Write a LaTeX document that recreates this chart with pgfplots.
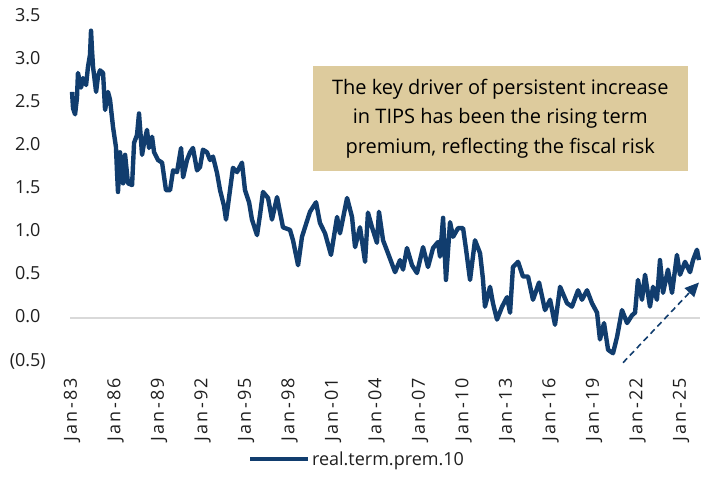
\documentclass[border=0pt]{standalone}
\usepackage{fontspec}
\setmainfont{Open Sans}
\usepackage{pgfplots}
\pgfplotsset{compat=1.18}
\usetikzlibrary{arrows.meta}
\definecolor{tipsblue}{HTML}{113D6E}
\definecolor{boxtan}{HTML}{DDCB9D}
\definecolor{zerogray}{HTML}{D9D9D9}
\definecolor{labgray}{HTML}{1F1F1F}
\begin{document}
\begin{tikzpicture}
\path[use as bounding box] (-70bp,-116bp) rectangle (638bp,361bp);
\begin{axis}[
  at={(0,0)}, anchor=south west,
  scale only axis, width=630bp, height=345bp,
  xmin=1982.86, xmax=2026.31, ymin=-0.5, ymax=3.5,
  clip=false,
  axis line style={draw=none},
  major tick length=0pt,
  xtick={1983,1986,1989,1992,1995,1998,2001,2004,2007,2010,2013,2016,2019,2022,2025},
  xticklabels={Jan-83,Jan-86,Jan-89,Jan-92,Jan-95,Jan-98,Jan-01,Jan-04,Jan-07,Jan-10,Jan-13,Jan-16,Jan-19,Jan-22,Jan-25},
  xticklabel style={rotate=90, anchor=east, inner sep=0pt, text=labgray,
    font=\fontsize{18bp}{20bp}\selectfont\addfontfeatures{LetterSpace=12}},
  xticklabel shift=17bp,
  ytick={-0.5,0,0.5,1,1.5,2,2.5,3,3.5},
  yticklabels={(0.5),0.0\phantom{)},0.5\phantom{)},1.0\phantom{)},1.5\phantom{)},2.0\phantom{)},2.5\phantom{)},3.0\phantom{)},3.5\phantom{)}},
  yticklabel style={anchor=east, inner sep=0pt, text=labgray, font=\fontsize{18bp}{20bp}\selectfont},
  yticklabel shift=24bp,
  legend style={at={(0.456,-0.284)}, anchor=center, draw=none, fill=none,
    font=\fontsize{18bp}{20bp}\selectfont, text=labgray, inner sep=0pt,
    nodes={inner sep=2bp}},
  legend image code/.code={\draw[#1, line width=3.5bp] (0bp,0bp) -- (58bp,0bp);},
]
\addplot[forget plot, zerogray, line width=1.6bp] coordinates {(1982.86,0) (2026.31,0)};
\addplot[tipsblue, line width=4.4bp, line join=round] table {
year value
1983.00 2.62
1983.07 2.43
1983.21 2.36
1983.34 2.55
1983.41 2.84
1983.62 2.67
1983.76 2.78
1983.97 2.70
1984.10 2.91
1984.24 3.05
1984.31 3.33
1984.38 3.10
1984.45 2.91
1984.66 2.62
1984.79 2.80
1984.93 2.87
1985.14 2.84
1985.28 2.41
1985.48 2.62
1985.62 2.53
1985.83 2.21
1986.03 1.98
1986.10 1.70
1986.17 1.46
1986.31 1.92
1986.52 1.56
1986.66 1.89
1986.86 1.56
1987.14 1.54
1987.28 2.03
1987.48 2.12
1987.62 2.37
1987.83 1.89
1987.97 2.03
1988.17 2.18
1988.31 1.97
1988.52 2.10
1988.66 1.92
1988.93 1.83
1989.21 1.80
1989.48 1.48
1989.76 1.48
1989.97 1.71
1990.24 1.69
1990.52 1.97
1990.66 1.63
1990.93 1.83
1991.14 1.92
1991.34 1.97
1991.62 1.71
1991.83 1.75
1992.03 1.95
1992.31 1.92
1992.52 1.83
1992.72 1.87
1993.00 1.68
1993.21 1.48
1993.48 1.30
1993.62 1.14
1993.76 1.31
1994.10 1.74
1994.38 1.69
1994.72 1.80
1994.93 1.48
1995.21 1.34
1995.41 1.14
1995.76 0.96
1995.97 1.20
1996.17 1.46
1996.52 1.39
1996.79 1.14
1997.14 1.40
1997.55 1.05
1998.03 1.02
1998.24 0.90
1998.59 0.61
1998.86 0.94
1999.41 1.23
1999.83 1.34
2000.10 1.10
2000.45 0.98
2000.86 0.73
2001.28 1.17
2001.48 0.98
2001.97 1.39
2002.31 1.17
2002.52 0.82
2002.86 1.05
2003.21 0.65
2003.41 1.22
2003.69 1.05
2004.03 0.87
2004.17 1.23
2004.45 0.90
2004.79 0.75
2005.28 0.53
2005.62 0.67
2005.83 0.56
2006.10 0.81
2006.45 0.61
2006.79 0.52
2007.21 0.82
2007.55 0.59
2007.90 0.81
2008.24 0.88
2008.38 0.71
2008.59 1.16
2008.79 0.44
2009.07 1.11
2009.28 0.94
2009.62 1.04
2009.97 1.04
2010.17 0.80
2010.45 0.44
2010.79 0.90
2011.14 0.75
2011.34 0.45
2011.48 0.13
2011.83 0.36
2012.03 0.17
2012.31 -0.02
2012.66 0.13
2013.00 0.24
2013.21 0.06
2013.41 0.59
2013.76 0.65
2014.10 0.48
2014.45 0.48
2014.79 0.21
2015.21 0.41
2015.62 0.09
2015.97 0.21
2016.31 -0.08
2016.66 0.36
2017.14 0.17
2017.48 0.13
2017.90 0.32
2018.17 0.21
2018.52 0.32
2018.86 0.17
2019.21 0.06
2019.41 -0.25
2019.69 -0.06
2019.97 -0.37
2020.31 -0.41
2020.59 -0.22
2020.93 0.09
2021.28 -0.06
2021.62 0.03
2021.83 0.06
2022.03 0.44
2022.31 0.21
2022.52 0.50
2022.86 0.13
2023.07 0.36
2023.34 0.21
2023.55 0.67
2023.76 0.29
2024.10 0.56
2024.38 0.29
2024.72 0.73
2024.93 0.50
2025.28 0.65
2025.62 0.53
2025.83 0.67
2026.10 0.79
2026.24 0.67
};
\addlegendentry{real.term.prem.10}
\addplot[forget plot, tipsblue, line width=1.6bp, dash pattern=on 6bp off 4bp,
  -{Triangle[length=14bp,width=13bp]}] coordinates {(2021.00,-0.52) (2026.24,0.41)};
\node[fill=boxtan, text=black, align=center, minimum width=375bp, minimum height=105bp,
  inner sep=0pt, font=\fontsize{20bp}{29.5bp}\selectfont]
  at (rel axis cs:0.683,0.703)
  {The key driver of persistent increase\\in TIPS has been the rising term\\premium, reflecting the fiscal risk};
\end{axis}
\end{tikzpicture}
\end{document}
